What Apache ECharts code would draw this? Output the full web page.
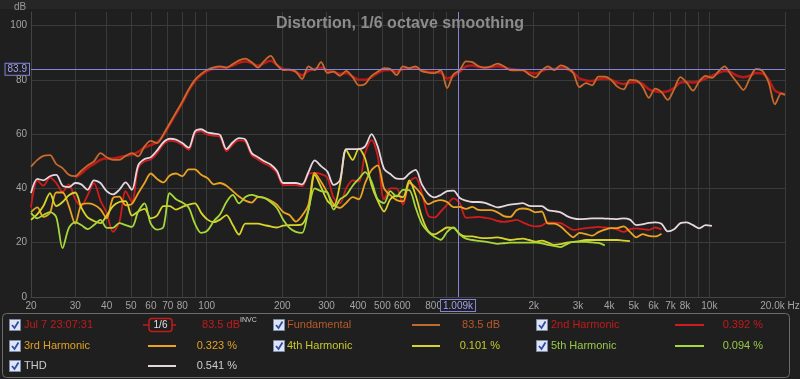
<!DOCTYPE html>
<html><head><meta charset="utf-8">
<script src="https://cdn.jsdelivr.net/npm/echarts@6/dist/echarts.min.js"></script>
<style>html,body{margin:0;padding:0;background:#1f1f1f}#c{width:800px;height:379px}</style>
</head><body><div id="c"></div>
<script>
const freqHz = [20,21.2,22.4,23.8,25.2,26.7,28.3,30,31.7,33.6,35.6,37.8,40,42.4,44.9,47.6,50.4,53.4,56.6,59.9,63.5,67.3,71.3,75.5,80,84.8,89.8,95.1,100.8,106.8,113.1,119.9,127,134.5,142.5,151,160,169.5,179.6,190.3,201.6,213.6,226.3,239.7,254,269.1,285.1,302.1,320,339,359,381,403,427,453,479,508,538,570,604,640,678,718,761,806,854,905,959,1016,1076,1140,1208,1280,1356,1437,1522,1613,1709,1810,1918,2032,2153,2281,2416,2560,2712,2874,3044,3225,3417,3620,3836,4064,4305,4561,4833,5120,5424,5747,6089,6451,6834,7241,7671,8127,8611,9123,9665,10240,10849,11494,12177,12902,13669,14482,15343,16255,17222,18246,19331,20000];

const splDb = [null,null,null,null,null,null,null,44, 45.5,47.5,49,50.5,51,51,51.5,52, 52.5,53.5,55,56,57,59.5,63.5,67.5, 71.5,76,79.5,81.8,83.3,84.2,84.6,84.5, 85.3,86.3,86.8,86.2,85.2,86.2,87,85.5, 84,83.7,83,81.7,83.3,84,84.5,83.5, 83,82.2,82.5,81.2,80,80,81,82.5, 83.5,83.6,83,84,84.2,84.3,83.5,83, 82.8,82.6,80.5,81.5,83,85,85.3,84.8, 84.5,84.7,85,84.6,84,83.7,83.5,82.7, 82.3,83.2,84,84,84.5,84,82.8,80.5, 79.8,79.6,80.2,80.5,80,79,78.5,79, 79.2,78.5,76.5,75.8,75.5,75.8,77,79, 79.2,79,79.5,80.5,81.5,82.5,83.3,82.8, 81.5,81,81.5,82.5,82.3,80,76,75,74.7];

const fundamentalDb = [48,50.5,52,52.3,49,47.5,45,44.5, 46.5,48.5,50,53,51.5,50.5,50.5,52, 53,51.8,55.5,57.5,56.7,60,64,68, 72,76.5,80,82.2,83.7,84.6,85,84.5, 85.8,87.2,87.8,86.5,84.5,87,88.8,85.5, 83.6,83.8,83,80.3,85,83.6,86.5,82.6, 83,81.5,83.3,81,78,78.5,81.5,83, 84.3,84,81.8,85,84.3,85,83.2,82.7, 82.5,83.5,77,82,83.6,86.8,86.5,85, 84.5,85,86,85,83.6,83.5,83.6,82, 80.9,83.5,85,83.6,85.3,84.5,82.5,77.3, 78.8,78,81.2,81.2,80,77.5,76.5,80, 79.8,77.5,73.4,76.8,75.5,72.6,76.5,81, 79,76,79.5,81.5,80.7,83,85,82, 79,76.3,80.5,84,83.3,79,71,75,74.4];

const h2Db = [33,43,41,44,42,38.8,41.5,36, 33.5,37.5,42,35.5,31,24,27.5,39, 35,47.5,50,50.7,53,56.2,57.5,57.2, 56,54.2,60.2,61,59.8,59.4,58.9,53.7, 56.2,57.7,57.2,52.2,50.7,49.2,48,45.7, 41.2,41.2,41.2,40.8,45.2,45.7,45.3,44, 36.5,34.5,40,43,42.5,53,57.8,52, 36,40,40,34,42.4,44,38.3,30, 29.3,31.5,34,36.3,34.6,29.2,29.3,29.5, 29.2,28.8,28,27.7,28,28.4,27.5,26.5, 26,26.3,27.5,27.4,27.2,26,24.7,25, 25.4,25.6,25.8,25.6,25.4,24.8,24,25, 25.3,25,24.7,25.6,24.9];

const h3Db = [31.3,33,29.5,31,38.5,38.5,33.5,27, 34,34.5,34,32.3,29,36.5,37,33.8, 34.3,38.2,42,45.5,43.5,42.2,44.8,45.5, 44.5,47,47,45,43.8,41.5,42,41, 39,37,35.5,34.8,36.8,36.5,35.5,34, 31.3,30.2,27.8,30,34,45.7,42.5,38.5, 34.2,32.8,34.7,36.8,36,42,46.8,48.5, 40,37.5,35.7,35.2,42,40.3,37.5,34.2, 35.2,35.7,35,33.1,33.2,32.5,33.2,32.1, 32,32,31.2,29.8,29.5,32,32.6,32.3, 31.2,31.5,27,27,26,23.8,22,23.6, 23.2,22.6,23.9,24.8,25.4,25.4,26,24, 22,23.2,22.5,22.3,23.3];

const h4Db = [28.4,30.5,33.5,38.3,33.5,35,37.5,38.5, 33,29.3,28,27.2,30,33.5,35,35.3, 30,31.5,32.5,29,30,33.5,33.5,32.2, 33.2,34,34.5,31,28.5,27.6,28.5,30.2, 26.5,23,27,27,27,26.5,26,25.6, 26.3,26.5,26.5,26.8,32,45,40.5,35.5, 33.5,41.5,54.2,50.5,54.7,51,41.2,35.5, 31.5,36,37.3,36.8,43,37.5,29.5,24.3, 23.1,24.3,25.6,25.5,23.2,22.3,22.3,21.9, 21.7,21.8,22,21.5,21,21.3,21.5,21, 20.4,20.8,20,19.2,19.5,20,20.3,20.6, 21,21,21,21,21,21,20.8,20.6];

const h5Db = [31,29,30.2,31.3,29.5,18,25.5,27.6, 26.5,25,26.5,28.4,25.5,25.5,27.2,26.5, 25.8,31.5,34.5,27,24.8,25.8,38.3,36, 34.8,33,27,23.6,24.5,28,30.5,35, 37.6,34.5,36.8,37.6,37,36.5,35,32.8, 28.5,25.5,24,23.6,32,40,39,38.5, 32.2,36,37.5,41,43.5,46,42.5,36, 34.6,39,37,39.5,39.4,33,27,24, 22.2,21.1,24,25.6,23,21.5,21,20.7, 20.4,20,19.6,19.8,20,20,20,20, 20,19.8,19.2,18.8,18.4,19.5,20.3,20.3, 20.3,20.1,19.9,19];

const thdDb = [38.3,43.5,43,44.5,45,41,40.5,42, 41.5,39.5,43,42,39,37.8,39.5,42.2, 39.5,48.5,50.8,51.5,54,57,58.3,58, 56.7,55,61,61.8,60.6,60.2,59.7,54.5, 57,58.5,58,53,51.5,50,48.8,46.5, 42,42,42,41.5,46,50.3,48.2,46.2, 41.3,43,54.5,54.5,54.5,55.5,60,55.5, 47.2,45.3,43.6,43.5,45.5,46.8,41.5,38, 36.7,37.6,39,39.2,36.5,35.5,35,35, 34.7,33.8,33,33.5,34,34.3,34.6,33.6, 33.5,33.5,32,31.6,31.2,29.8,29,28.7, 28.8,29,29,28.9,28.8,28.7,29,28.5, 26.5,26.8,27.3,27.5,27,24.2,25,27.2, 27.5,26.5,25.3,26.5,26.2];

const xGridHz = [20,30,40,50,60,70,80,90,100,200,300,400,500,600,700,800,900,1000,2000,3000,4000,5000,6000,7000,8000,9000,10000,20000];
const xLabelHz = [20,30,40,50,60,70,80,100,200,300,400,500,600,800,2000,3000,4000,5000,6000,7000,8000,10000,20000];
const yTicks = [0,20,40,60,80,100];
const markerDb = 83.9;
const cursorHz = 1009;

const FONT = '"Liberation Sans", Arial, sans-serif';
const L = Math.log10;
function pts(arr){ return arr.map((v,i)=>[L(freqHz[i]), v]); }
function fmtHz(v){
  const f = Math.round(Math.pow(10, v));
  if (f >= 20000) return '{last|20.0k Hz}';
  if (f >= 1000) return (f/1000) + 'k';
  return String(f);
}

const seriesDefs = [
  {name:'Jul 7 23:07:31', data: splDb, color:'#b81a1a', width:2.5},
  {name:'Fundamental', data: fundamentalDb, color:'#c86a2c', width:1.8},
  {name:'2nd Harmonic', data: h2Db, color:'#d01c1c', width:1.8},
  {name:'3rd Harmonic', data: h3Db, color:'#eaa322', width:1.8},
  {name:'4th Harmonic', data: h4Db, color:'#d8d42a', width:1.8},
  {name:'5th Harmonic', data: h5Db, color:'#a6d83a', width:1.8},
  {name:'THD', data: thdDb, color:'#e6d6de', width:1.8}
];

const series = seriesDefs.map((s, i) => ({
  type:'line', name:s.name, data: pts(s.data), showSymbol:false, smooth:0.3,
  lineStyle:{color:s.color, width:s.width}, itemStyle:{color:s.color},
  z: 2 + i, silent:true
}));
series[series.length-1].markLine = {
  symbol:'none', silent:true, animation:false,
  lineStyle:{color:'#8484d8', width:1, type:'solid'},
  data:[
    {yAxis: markerDb, label:{show:true, position:'start', formatter: String(markerDb), color:'#a0a0ee', fontSize:10, fontFamily:FONT, borderColor:'#8484d8', borderWidth:1, padding:[1,2,0,2], backgroundColor:'#1f1f1f', distance:2}},
    {xAxis: L(cursorHz), label:{show:true, position:'start', formatter: (cursorHz/1000).toFixed(3)+'k', color:'#a0a0ee', fontSize:10, fontFamily:FONT, borderColor:'#8484d8', borderWidth:1, padding:[1,2,0,2], backgroundColor:'#1f1f1f', distance:3}}
  ]
};

const legendRows = [325, 346, 366];
const g = [];
g.push({type:'rect', shape:{x:0, y:0, width:800, height:9}, style:{fill:'#262626'}, z:0, silent:true});
g.push({type:'text', left:14, top:2, style:{text:'dB', fill:'#9a9a9a', font:'10px '+FONT}, silent:true});
g.push({type:'rect', shape:{x:2.5, y:313.5, width:787, height:64, r:4}, style:{fill:'none', stroke:'#6c6c6c', lineWidth:1}, silent:true});
function checkbox(x, yc){
  g.push({type:'rect', shape:{x:x+0.5, y:yc-5.5, width:11, height:11}, style:{fill:'#dfe5f2', stroke:'#7d8cab', lineWidth:1}, silent:true});
  g.push({type:'polyline', shape:{points:[[x+3,yc],[x+5.5,yc+3],[x+9.5,yc-3.5]]}, style:{stroke:'#2d4da8', lineWidth:1.8, fill:'none'}, silent:true});
}
function txt(x, yc, t, color, align){
  g.push({type:'text', x:x, y:yc, style:{text:t, fill:color, font:'11px '+FONT, align:align||'left', verticalAlign:'middle'}, silent:true});
}
function sample(x1, x2, yc, color){
  g.push({type:'line', shape:{x1:x1, y1:yc, x2:x2, y2:yc}, style:{stroke:color, lineWidth:2}, silent:true});
}
checkbox(9, legendRows[0]); txt(24, legendRows[0], 'Jul 7 23:07:31', '#c41a1a');
g.push({type:'line', shape:{x1:143, y1:legendRows[0], x2:176, y2:legendRows[0]}, style:{stroke:'#c41a1a', lineWidth:1.5}, silent:true});
g.push({type:'rect', shape:{x:149, y:legendRows[0]-6.5, width:23, height:13, r:3}, style:{fill:'#1f1f1f', stroke:'#c41a1a', lineWidth:1.5}, silent:true});
g.push({type:'text', x:160.5, y:legendRows[0], style:{text:'1/6', fill:'#e0e0e0', font:'10px '+FONT, align:'center', verticalAlign:'middle'}, silent:true});
txt(240, legendRows[0], '83.5 dB', '#c41a1a', 'right');
g.push({type:'text', x:240, y:legendRows[0]-5, style:{text:'INVC', fill:'#cfcfcf', font:'7px '+FONT, align:'left', verticalAlign:'middle'}, silent:true});
checkbox(273, legendRows[0]); txt(287, legendRows[0], 'Fundamental', '#b85a2a');
sample(412, 440, legendRows[0], '#c06a30'); txt(500, legendRows[0], '83.5 dB', '#b85a2a', 'right');
checkbox(536, legendRows[0]); txt(551, legendRows[0], '2nd Harmonic', '#c41a1a');
sample(675, 704, legendRows[0], '#d01c1c'); txt(763, legendRows[0], '0.392 %', '#c41a1a', 'right');
checkbox(9, legendRows[1]); txt(24, legendRows[1], '3rd Harmonic', '#e0a224');
sample(148, 176, legendRows[1], '#eaa322'); txt(237, legendRows[1], '0.323 %', '#e0a224', 'right');
checkbox(273, legendRows[1]); txt(287, legendRows[1], '4th Harmonic', '#c8c82a');
sample(412, 440, legendRows[1], '#d8d42a'); txt(500, legendRows[1], '0.101 %', '#c8c82a', 'right');
checkbox(536, legendRows[1]); txt(551, legendRows[1], '5th Harmonic', '#98c848');
sample(675, 704, legendRows[1], '#a6d83a'); txt(763, legendRows[1], '0.094 %', '#98c848', 'right');
checkbox(9, legendRows[2]); txt(24, legendRows[2], 'THD', '#cccccc');
sample(148, 176, legendRows[2], '#e0d8dc'); txt(237, legendRows[2], '0.541 %', '#cccccc', 'right');

const chart = echarts.init(document.getElementById('c'), null, {renderer:'canvas'});
chart.setOption({
  animation:false,
  backgroundColor:'#1f1f1f',
  title:{text:'Distortion, 1/6 octave smoothing', left:'center', top:11, textStyle:{color:'#8c8c8c', fontSize:16, fontWeight:'bold', fontFamily:FONT}},
  grid:{left:31, right:15, top:12, bottom:82, containLabel:false, outerBoundsMode:'none'},
  xAxis:{
    type:'value', min:L(20), max:L(20000),
    axisLine:{show:true, lineStyle:{color:'#444444'}},
    axisTick:{show:false, customValues: xGridHz.map(L)},
    axisLabel:{customValues: xLabelHz.map(L), formatter: fmtHz, color:'#a4a4a4', fontSize:10, fontFamily:FONT, margin:4,
      rich:{last:{color:'#a4a4a4', fontSize:10, fontFamily:FONT, padding:[0,10,0,0]}}},
    splitLine:{show:true, lineStyle:{color:'#3a3a3a', width:1}}
  },
  yAxis:{
    type:'value', min:0, max:105,
    axisLine:{show:true, lineStyle:{color:'#444444'}},
    axisTick:{show:false, customValues: yTicks},
    axisLabel:{customValues: yTicks, color:'#a4a4a4', fontSize:10, fontFamily:FONT, margin:4},
    splitLine:{show:true, lineStyle:{color:'#3a3a3a', width:1}}
  },
  series: series,
  graphic: g
});
</script></body></html>
